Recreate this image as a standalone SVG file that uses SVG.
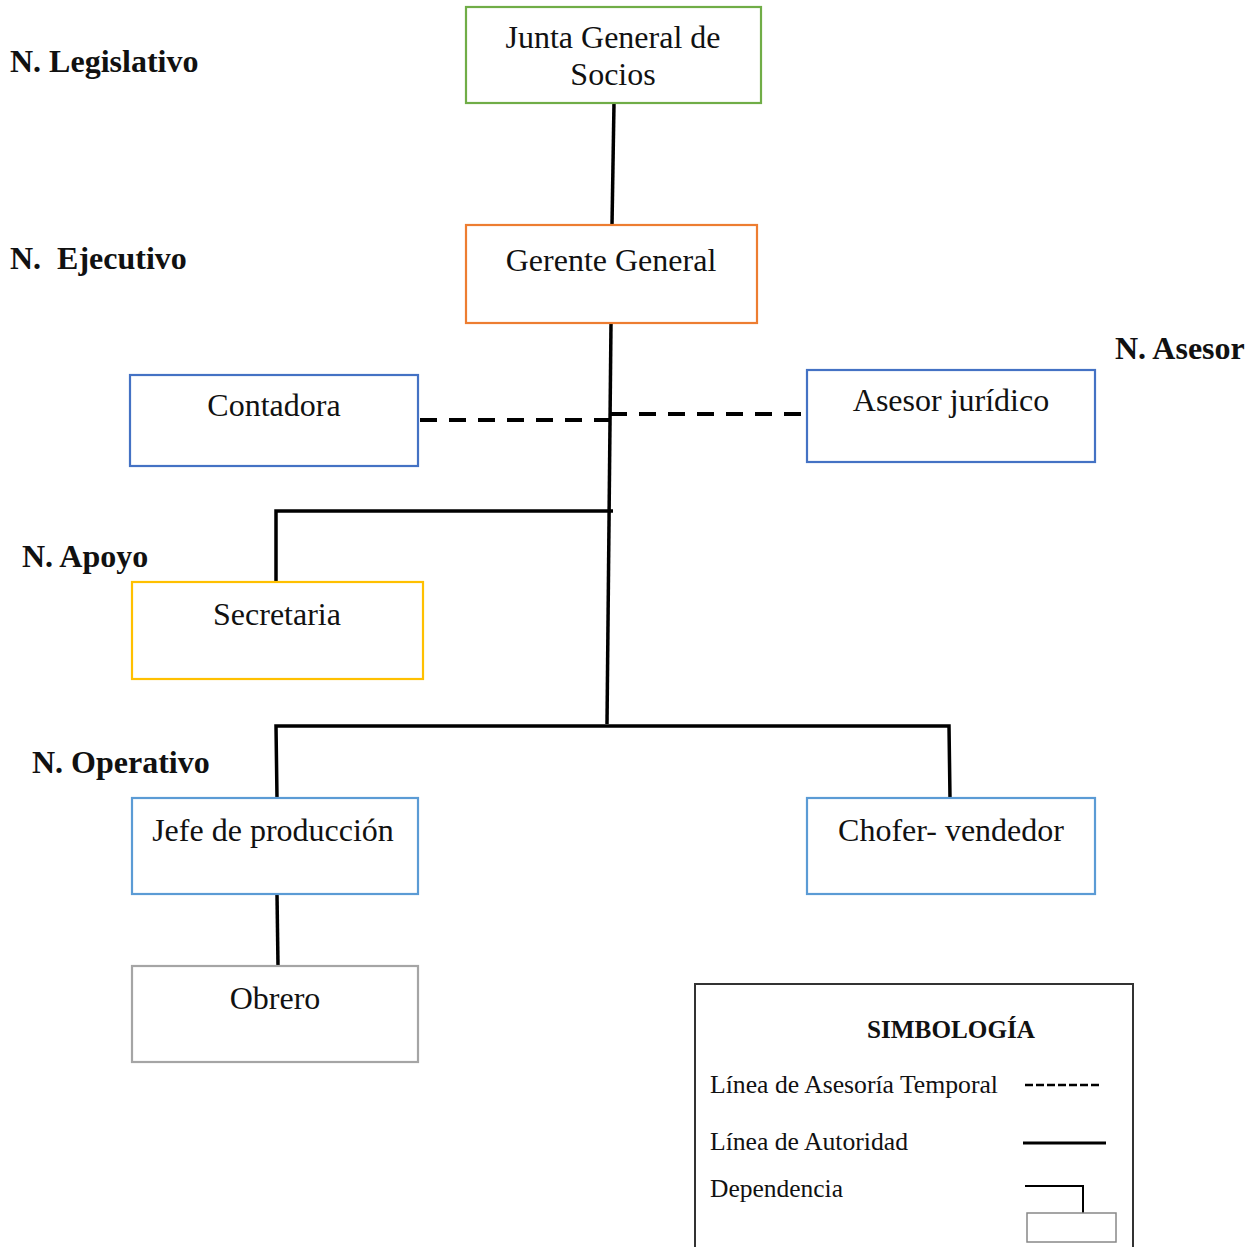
<svg xmlns="http://www.w3.org/2000/svg" width="1257" height="1247" viewBox="0 0 1257 1247">
<style>
.box{fill:#fff;stroke-width:2.2}
.t{font-family:"Liberation Serif","Times New Roman",serif;font-size:32px;fill:#111;text-anchor:middle}
.lv{font-family:"Liberation Serif","Times New Roman",serif;font-size:32px;font-weight:bold;fill:#111}
.lg{font-family:"Liberation Serif","Times New Roman",serif;font-size:25px;fill:#111}
.ln{stroke:#000;stroke-width:3.5;fill:none}
.dash{stroke:#000;stroke-width:4;stroke-dasharray:17 12;fill:none}
</style>
<rect width="1257" height="1247" fill="#fff"/>
<g id="levels">
<text class="lv" x="10" y="72">N. Legislativo</text>
<text class="lv" x="10" y="269" xml:space="preserve">N.  Ejecutivo</text>
<text class="lv" x="1115" y="359">N. Asesor</text>
<text class="lv" x="22" y="567">N. Apoyo</text>
<text class="lv" x="32" y="773">N. Operativo</text>
</g>
<g id="connectors">
<line class="ln" x1="614" y1="103" x2="612" y2="225"/>
<line class="ln" x1="611" y1="323" x2="607" y2="724"/>
<line class="dash" x1="420" y1="420" x2="610" y2="420"/>
<line class="dash" x1="610" y1="414" x2="806" y2="414"/>
<polyline class="ln" points="276,582 276,511 613,511"/>
<polyline class="ln" points="277,798 276,726 949,726 950,798"/>
<line class="ln" x1="277" y1="894" x2="278" y2="966"/>
</g>
<g id="junta">
<rect class="box" x="466" y="7" width="295" height="96" stroke="#70ad47"/>
<text class="t" x="613" y="48">Junta General de</text>
<text class="t" x="613" y="85">Socios</text>
</g>
<g id="gerente">
<rect class="box" x="466" y="225" width="291" height="98" stroke="#ed7d31"/>
<text class="t" x="611" y="271">Gerente General</text>
</g>
<g id="contadora">
<rect class="box" x="130" y="375" width="288" height="91" stroke="#4472c4"/>
<text class="t" x="274" y="416">Contadora</text>
</g>
<g id="asesor">
<rect class="box" x="807" y="370" width="288" height="92" stroke="#4472c4"/>
<text class="t" x="951" y="411">Asesor jurídico</text>
</g>
<g id="secretaria">
<rect class="box" x="132" y="582" width="291" height="97" stroke="#ffc000"/>
<text class="t" x="277" y="625">Secretaria</text>
</g>
<g id="jefe">
<rect class="box" x="132" y="798" width="286" height="96" stroke="#5b9bd5"/>
<text class="t" x="273" y="841">Jefe de producción</text>
</g>
<g id="chofer">
<rect class="box" x="807" y="798" width="288" height="96" stroke="#5b9bd5"/>
<text class="t" x="951" y="841">Chofer- vendedor</text>
</g>
<g id="obrero">
<rect class="box" x="132" y="966" width="286" height="96" stroke="#a5a5a5"/>
<text class="t" x="275" y="1009">Obrero</text>
</g>
<g id="legend">
<rect x="695" y="984" width="438" height="280" fill="#fff" stroke="#333" stroke-width="2"/>
<text class="lg" x="951" y="1038" text-anchor="middle" font-weight="bold" font-size="23" textLength="168" lengthAdjust="spacingAndGlyphs">SIMBOLOGÍA</text>
<text class="lg" x="710" y="1093" textLength="288" lengthAdjust="spacingAndGlyphs">Línea de Asesoría Temporal</text>
<line x1="1025" y1="1085" x2="1101" y2="1085" stroke="#000" stroke-width="2.5" stroke-dasharray="8 3"/>
<text class="lg" x="710" y="1150" textLength="198" lengthAdjust="spacingAndGlyphs">Línea de Autoridad</text>
<line x1="1023" y1="1143" x2="1106" y2="1143" stroke="#000" stroke-width="3"/>
<text class="lg" x="710" y="1197" textLength="133" lengthAdjust="spacingAndGlyphs">Dependencia</text>
<polyline points="1025,1186 1083,1186 1083,1213" fill="none" stroke="#000" stroke-width="2"/>
<rect x="1027" y="1213" width="89" height="29" fill="#fff" stroke="#888" stroke-width="1.5"/>
</g>
</svg>
